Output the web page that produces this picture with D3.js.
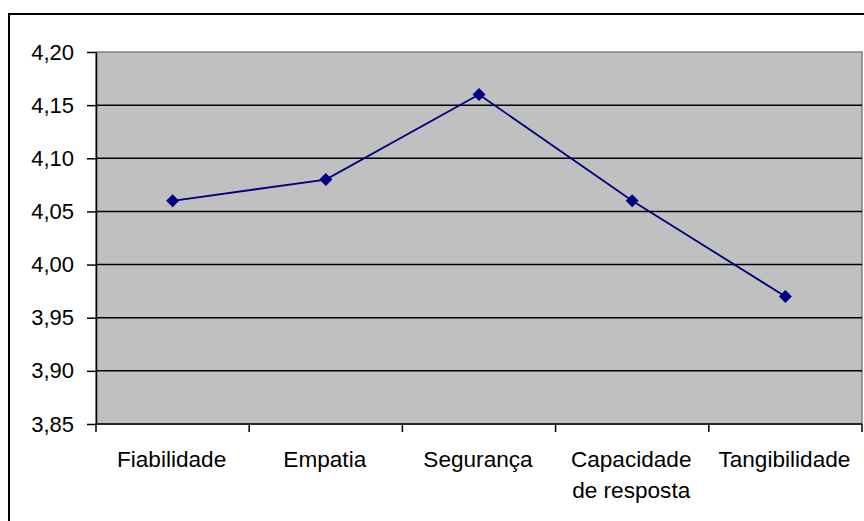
<!DOCTYPE html>
<html>
<head>
<meta charset="utf-8">
<script src="https://cdn.jsdelivr.net/npm/d3@7"></script>
<style>
  body { margin: 0; background: #fff; }
  svg { display: block; }
</style>
</head>
<body>
<svg id="chart"></svg>
<script>
// Data
const categories = ['Fiabilidade', 'Empatia', 'Segurança', 'Capacidade de resposta', 'Tangibilidade'];
const labelLines = [['Fiabilidade'], ['Empatia'], ['Segurança'], ['Capacidade', 'de resposta'], ['Tangibilidade']];
const values = [4.06, 4.08, 4.16, 4.06, 3.97];
const yTicks = [3.85, 3.90, 3.95, 4.00, 4.05, 4.10, 4.15, 4.20];

const width = 864, height = 521;
const margin = { top: 52, right: 2, bottom: 97, left: 96 };
const innerW = width - margin.left - margin.right;
const innerH = height - margin.top - margin.bottom;

const svg = d3.select('#chart')
    .attr('width', width)
    .attr('height', height);

// Outer chart border (right/bottom run off the picture)
svg.append('rect')
    .attr('x', 9).attr('y', 14)
    .attr('width', 900).attr('height', 600)
    .attr('fill', 'none')
    .attr('stroke', '#000')
    .attr('stroke-width', 2);

const chart = svg.append('g')
    .attr('transform', `translate(${margin.left},${margin.top})`);

const xBand = d3.scaleBand()
    .domain(categories)
    .range([0, innerW]);

const yScale = d3.scaleLinear()
    .domain([3.85, 4.20])
    .range([innerH, 0]);

// Plot area
chart.append('rect')
    .attr('x', 0).attr('y', 0)
    .attr('width', innerW).attr('height', innerH)
    .attr('fill', '#c0c0c0')
    .attr('stroke', '#808080')
    .attr('stroke-width', 1.5);

// Gridlines
chart.selectAll('.grid')
    .data(yTicks.slice(1, -1))
    .join('line')
        .attr('class', 'grid')
        .attr('x1', 0).attr('x2', innerW)
        .attr('y1', d => yScale(d)).attr('y2', d => yScale(d))
        .attr('stroke', '#000')
        .attr('stroke-width', 1.5);

const fmt = d => d.toFixed(2).replace('.', ',');

// Y axis
const yAxis = d3.axisLeft(yScale)
    .tickValues(yTicks)
    .tickFormat(fmt)
    .tickSize(9)
    .tickSizeOuter(0)
    .tickPadding(13);

const yAxisG = chart.append('g').call(yAxis);
yAxisG.select('.domain').attr('stroke', '#000').attr('stroke-width', 1.5);
yAxisG.selectAll('line').attr('stroke', '#000').attr('stroke-width', 1.5);
yAxisG.selectAll('text')
    .attr('font-family', 'Liberation Sans, Arial, sans-serif')
    .attr('font-size', 22)
    .attr('fill', '#000');

// X axis (ticks at category boundaries)
const xBounds = categories.map(c => xBand(c)).concat([innerW]);
const xAxisG = chart.append('g')
    .attr('transform', `translate(0,${innerH})`);

xAxisG.append('line')
    .attr('x1', 0).attr('x2', innerW)
    .attr('y1', 0).attr('y2', 0)
    .attr('stroke', '#000')
    .attr('stroke-width', 1.5);

xAxisG.selectAll('.xtick')
    .data(xBounds)
    .join('line')
        .attr('class', 'xtick')
        .attr('x1', d => d).attr('x2', d => d)
        .attr('y1', 0).attr('y2', 8)
        .attr('stroke', '#000')
        .attr('stroke-width', 1.5);

xAxisG.selectAll('.xlabel')
    .data(categories)
    .join('text')
        .attr('class', 'xlabel')
        .attr('text-anchor', 'middle')
        .attr('font-family', 'Liberation Sans, Arial, sans-serif')
        .attr('font-size', 22.6)
        .attr('fill', '#000')
        .each(function(d, i) {
            const t = d3.select(this);
            labelLines[i].forEach((line, j) => {
                t.append('tspan')
                    .attr('x', xBand(d) + xBand.bandwidth() / 2 - 1)
                    .attr('y', 43 + j * 31)
                    .text(line);
            });
        });

// Line series
const line = d3.line()
    .x((d, i) => xBand(categories[i]) + xBand.bandwidth() / 2)
    .y(d => yScale(d));

chart.append('path')
    .datum(values)
    .attr('d', line)
    .attr('fill', 'none')
    .attr('stroke', '#000080')
    .attr('stroke-width', 1.8);

chart.selectAll('.marker')
    .data(values)
    .join('path')
        .attr('class', 'marker')
        .attr('transform', (d, i) => `translate(${xBand(categories[i]) + xBand.bandwidth() / 2},${yScale(d)})`)
        .attr('d', 'M0,-6.5L6.5,0L0,6.5L-6.5,0Z')
        .attr('fill', '#000080');
</script>
</body>
</html>
